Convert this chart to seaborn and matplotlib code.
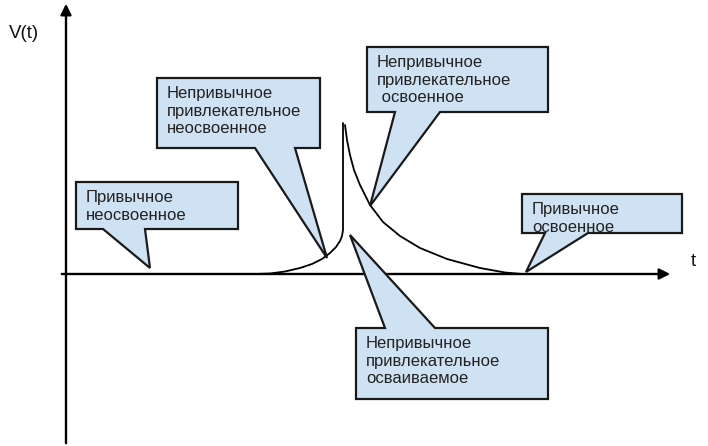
import matplotlib
matplotlib.use("Agg")
import matplotlib.pyplot as plt
import seaborn as sns
import numpy as np
import pandas as pd
from matplotlib.patches import Polygon

# curve (t, V)
rise_t = [1.88, 2.03, 2.18, 2.33, 2.45, 2.55, 2.63, 2.69, 2.73, 2.75, 2.76, 2.76]
rise_v = [0.0, 0.005, 0.025, 0.06, 0.10, 0.15, 0.21, 0.27, 0.33, 0.38, 0.44, 1.51]
decay_t = [2.78, 2.80, 2.83, 2.87, 2.93, 3.03, 3.16, 3.33, 3.53, 3.80, 4.13, 4.38, 4.55]
decay_v = [1.49, 1.34, 1.19, 1.04, 0.89, 0.69, 0.52, 0.38, 0.26, 0.15, 0.06, 0.015, 0.0]

labels = [
    "Привычное\nнеосвоенное",
    "Непривычное\nпривлекательное\nнеосвоенное",
    "Непривычное\nпривлекательное\n освоенное",
    "Привычное\nосвоенное",
    "Непривычное\nпривлекательное\nосваиваемое",
]

df = pd.DataFrame({
    "t": rise_t + decay_t,
    "V": rise_v + decay_v,
    "seg": ["rise"] * len(rise_t) + ["decay"] * len(decay_t),
})

sns.set_theme(style="white")
plt.rcParams["font.family"] = ["Liberation Sans", "DejaVu Sans"]

fig = plt.figure(figsize=(7.08, 4.46), dpi=100)
ax = fig.add_axes([0, 0, 1, 1])
ax.set_xlim(-0.67, 6.41)
ax.set_ylim(-1.72, 2.74)
ax.axis("off")


def px(x, y):
    # pixel position -> data position
    return ((x - 67) / 100, (274 - y) / 100)


# axes with arrows
ax.annotate("", xy=px(66, 1), xytext=px(66, 446),
            arrowprops=dict(arrowstyle="-|>", lw=1.7, color="black", mutation_scale=16))
ax.annotate("", xy=px(673, 274), xytext=px(59, 274),
            arrowprops=dict(arrowstyle="-|>", lw=1.7, color="black", mutation_scale=16))
ax.text(*px(9, 33), "V(t)", fontsize=13.5, va="center", ha="left", color="#111")
ax.text(*px(693, 262), "t", fontsize=13.5, va="center", ha="center", color="#111")

sns.lineplot(data=df, x="t", y="V", units="seg", estimator=None, sort=False,
             color="black", lw=1.3, ax=ax)

# callouts: box (x0, x1, y0, y1), tail base (a, b), tip, tail side
callouts = [
    ((76, 238, 182, 229), (103, 145), (150, 268), "bottom"),
    ((157, 320, 78, 148), (255, 295), (327, 258), "bottom"),
    ((367, 548, 47, 112), (395, 440), (370, 206), "bottom"),
    ((522, 682, 194, 233), (545, 588), (526, 272), "bottom"),
    ((356, 548, 328, 399), (385, 435), (350, 235), "top"),
]

for (box, (a, b), tip, side), text in zip(callouts, labels):
    x0, x1, y0, y1 = box
    if side == "bottom":
        verts = [(x0, y0), (x1, y0), (x1, y1), (b, y1), tip, (a, y1), (x0, y1)]
    else:
        verts = [(x0, y0), (a, y0), tip, (b, y0), (x1, y0), (x1, y1), (x0, y1)]
    poly = Polygon([px(*v) for v in verts], closed=True, facecolor="#cfe2f3",
                   edgecolor="#1a1a1a", lw=1.6, zorder=3, joinstyle="miter")
    ax.add_patch(poly)
    ax.text(*px(x0 + 10, y0 + 8), text, fontsize=12, va="top", ha="left",
            color="#222", linespacing=1.22, zorder=4)

fig.savefig("out.png", dpi=100)
